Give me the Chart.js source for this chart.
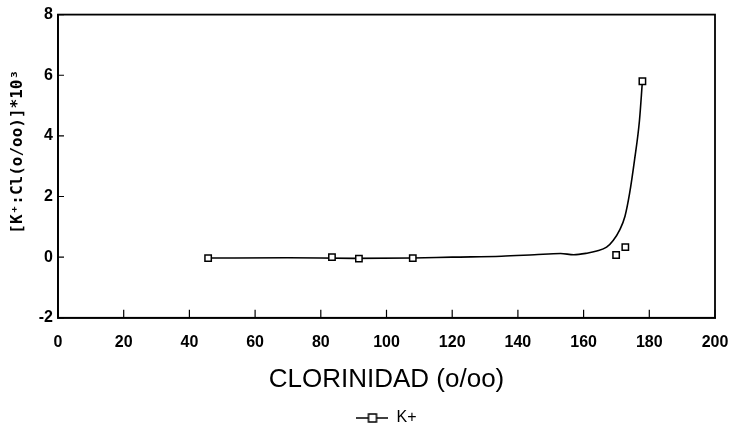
<!DOCTYPE html>
<html>
<head>
<meta charset="utf-8">
<script src="https://cdn.jsdelivr.net/npm/chart.js@4.4.1/dist/chart.umd.min.js"></script>
<style>
  html, body { margin: 0; padding: 0; background: #fff; }
  #wrap { width: 735px; height: 428px; }
</style>
</head>
<body>
<div id="wrap"><canvas id="chart" width="735" height="428"></canvas></div>
<script>
// measured points (K+)
const pointX = [45.7, 83.4, 91.6, 108, 169.9, 172.7, 177.9];
const pointY = [-0.03, 0, -0.05, -0.03, 0.07, 0.33, 5.8];

// fitted curve
const curveX = [45.7, 70, 90, 108, 120, 135, 145, 153, 157, 161, 164, 167, 169, 171, 172.6, 174, 175.5, 177, 177.9];
const curveY = [-0.03, -0.02, -0.04, -0.03, 0.0, 0.03, 0.08, 0.12, 0.08, 0.13, 0.2, 0.33, 0.55, 0.9, 1.35, 2.1, 3.2, 4.5, 5.8];

const xTitle = "CLORINIDAD (o/oo)";
const yTitle = "   [K\u207A:Cl(o/oo)]*10\u00B3";
const seriesName = "K+";

// legend symbol: line with open square
const legendMark = document.createElement("canvas");
legendMark.width = 32;
legendMark.height = 12;
(function () {
  const c = legendMark.getContext("2d");
  c.strokeStyle = "#000";
  c.lineWidth = 1.5;
  c.beginPath();
  c.moveTo(0, 6);
  c.lineTo(32, 6);
  c.stroke();
  c.fillStyle = "#fff";
  c.fillRect(12, 2, 8, 8);
  c.strokeRect(12, 2, 8, 8);
})();

// box around the plot + inward ticks, legend centred under the plot
const framePlugin = {
  id: "frame",
  afterLayout(chart) {
    const a = chart.chartArea;
    if (chart.legend) {
      chart.legend.left = a.left;
      chart.legend.right = a.right;
      chart.legend.width = a.right - a.left;
    }
  },
  afterDraw(chart) {
    const { ctx, chartArea: a, scales } = chart;
    ctx.save();
    ctx.strokeStyle = "#000";
    ctx.lineWidth = 1.8;
    ctx.strokeRect(a.left, a.top, a.right - a.left, a.bottom - a.top);
    ctx.lineWidth = 1.2;
    ctx.beginPath();
    scales.x.ticks.forEach((t) => {
      const px = scales.x.getPixelForValue(t.value);
      ctx.moveTo(px, a.bottom);
      ctx.lineTo(px, a.bottom - 8);
    });
    scales.y.ticks.forEach((t) => {
      const py = scales.y.getPixelForValue(t.value);
      ctx.moveTo(a.left, py);
      ctx.lineTo(a.left + 6, py);
    });
    ctx.stroke();
    ctx.restore();
  },
};

new Chart(document.getElementById("chart"), {
  type: "scatter",
  data: {
    datasets: [
      {
        label: seriesName,
        data: pointX.map((x, i) => ({ x: x, y: pointY[i] })),
        showLine: false,
        pointStyle: "rect",
        pointRadius: 4.5,
        pointBorderWidth: 1.5,
        pointBackgroundColor: "#fff",
        pointBorderColor: "#000",
        order: 0,
      },
      {
        label: "fit",
        data: curveX.map((x, i) => ({ x: x, y: curveY[i] })),
        showLine: true,
        borderColor: "#000",
        borderWidth: 1.6,
        pointRadius: 0,
        cubicInterpolationMode: "monotone",
        order: 1,
      },
    ],
  },
  options: {
    responsive: false,
    animation: false,
    layout: { padding: { left: 0, right: 6, top: 14, bottom: -8 } },
    plugins: {
      tooltip: { enabled: false },
      legend: {
        position: "bottom",
        labels: {
          usePointStyle: true,
          pointStyleWidth: 32,
          padding: 17,
          color: "#000",
          font: { family: "Liberation Sans", size: 16 },
          filter: (item) => item.datasetIndex === 0,
          generateLabels(chart) {
            const items = Chart.defaults.plugins.legend.labels.generateLabels(chart);
            items.forEach((it) => (it.pointStyle = legendMark));
            return items;
          },
        },
      },
    },
    scales: {
      x: {
        type: "linear",
        min: 0,
        max: 200,
        grid: { display: false, drawTicks: false },
        border: { display: true, color: "#000", width: 1.8 },
        afterFit(scale) {
          scale.paddingRight = 20;
        },
        ticks: {
          stepSize: 20,
          padding: 15,
          color: "#000",
          font: { family: "Liberation Sans", size: 16, weight: "bold" },
        },
        title: {
          display: true,
          text: xTitle,
          color: "#000",
          padding: { top: 0, bottom: 0 },
          font: { family: "'Liberation Sans Narrow', 'Liberation Sans'", size: 26, lineHeight: 1 },
        },
      },
      y: {
        type: "linear",
        min: -2,
        max: 8,
        grid: { display: false, drawTicks: false },
        border: { display: true, color: "#000", width: 1.8 },
        afterFit(scale) {
          scale.width = 58;
        },
        ticks: {
          stepSize: 2,
          padding: 5,
          color: "#000",
          font: { family: "Liberation Sans", size: 16, weight: "bold" },
        },
        title: {
          display: true,
          text: yTitle,
          color: "#000",
          padding: { top: 8, bottom: 0 },
          font: { family: "'DejaVu Sans Mono'", size: 16, weight: "bold" },
        },
      },
    },
  },
  plugins: [framePlugin],
});
</script>
</body>
</html>
